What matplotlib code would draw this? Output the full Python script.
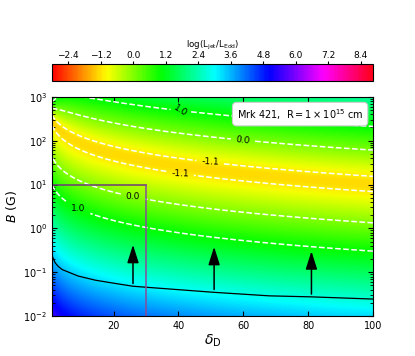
import numpy as np
import matplotlib
matplotlib.use("Agg")
import matplotlib.pyplot as plt

# ---- data ----
# boundary curve (black line): Doppler factor vs B
line_delta = [1.0, 1.5, 2.0, 3.0, 4.2, 9.1, 14.4, 19.6, 26.0, 32.8, 50.7, 68.0, 81.0, 100.0]
line_B = [0.245, 0.20, 0.165, 0.135, 0.115, 0.082, 0.066, 0.057, 0.048, 0.044, 0.035, 0.029, 0.0275, 0.0245]

# arrows: delta, B at base, B at tip
arrow_delta = [26.0, 51.0, 81.0]
arrow_B_base = [0.048, 0.035, 0.0275]
arrow_B_tip = [0.49, 0.44, 0.35]

# box region
box_delta_max = 30.0
box_B_max = 10.0

# contour levels and label positions (delta, B)
levels = [-1.1, 0.0, 1.0]
label_pos = [(41.4, 500.0), (60.0, 115.0), (49.8, 33.0), (40.5, 17.4), (26.0, 4.9), (9.1, 2.9)]

# model parameters for log(L_jet/L_Edd) surface
v0_coef = [2.55, -0.39, -0.185]   # log B of minimum as quadratic in log delta
f_min = -1.4            # minimum value
slope_up = 1.8          # rise per dex above minimum (large delta)
slope_up_boost = 3.0    # extra steepening at small delta
slope_down = 1.55       # rise per dex below minimum
soft = 2.5

cb_ticks = [-2.4, -1.2, 0.0, 1.2, 2.4, 3.6, 4.8, 6.0, 7.2, 8.4]
vmin, vmax = -3.0, 8.85

# ---- surface ----
delta = np.linspace(1, 100, 500)
logB = np.linspace(-2, 3, 500)
D, LB = np.meshgrid(delta, logB)
U = np.log10(D)
v0 = v0_coef[0] + v0_coef[1] * U + v0_coef[2] * U ** 2
d = LB - v0
a = slope_up * (1 + slope_up_boost / D)
F = f_min + np.log10(10 ** (soft * a * d) + 10 ** (-soft * slope_down * d)) / soft
Bgrid = 10 ** LB

fig = plt.figure(figsize=(4.15, 3.56), dpi=100)
ax = fig.add_axes([0.125, 0.112, 0.774, 0.616])
cax = fig.add_axes([0.125, 0.772, 0.774, 0.048])

pc = ax.pcolormesh(D, Bgrid, F, cmap="hsv", vmin=vmin, vmax=vmax, shading="gouraud", rasterized=True)
cs = ax.contour(D, Bgrid, F, levels=levels, colors="white", linestyles="--", linewidths=1.1)
ax.clabel(cs, fmt="%.1f", fontsize=6.5, colors="k", inline=True, manual=label_pos)

ax.plot(line_delta, line_B, color="k", lw=0.9)
for dlt, b0, b1 in zip(arrow_delta, arrow_B_base, arrow_B_tip):
    ax.annotate("", xy=(dlt, b1), xytext=(dlt, b0),
                arrowprops=dict(arrowstyle="-|>,head_width=0.35,head_length=1.1", color="k", lw=1.1, mutation_scale=10))
ax.plot([1, box_delta_max], [box_B_max, box_B_max], color="#6e3a78", lw=1.1)
ax.plot([box_delta_max, box_delta_max], [0.01, box_B_max], color="#8a4a9a", lw=1.1)

ax.set_yscale("log")
ax.set_xlim(1, 100)
ax.set_ylim(1e-2, 1e3)
ax.set_xticks([20, 40, 60, 80, 100])
ax.tick_params(which="both", direction="in", top=True, right=True, labelsize=7)
ax.set_xlabel(r"$\delta_{\rm D}$", fontsize=10, labelpad=1)
ax.set_ylabel(r"$B$ (G)", fontsize=9, labelpad=3)

ax.text(0.97, 0.955, r"Mrk 421,  R$=1\times10^{15}$ cm", transform=ax.transAxes,
        ha="right", va="top", fontsize=7,
        bbox=dict(boxstyle="round,pad=0.45", fc="white", ec="0.8", lw=0.8))

cb = fig.colorbar(pc, cax=cax, orientation="horizontal", ticks=cb_ticks)
cb.ax.xaxis.set_ticks_position("top")
cb.ax.xaxis.set_label_position("top")
cb.ax.tick_params(labelsize=6.5, length=2, pad=0.8)
cb.set_label(r"log(L$_{\rm jet}$/L$_{\rm Edd}$)", fontsize=6.2, labelpad=3)

fig.savefig("out.png", dpi=100)
